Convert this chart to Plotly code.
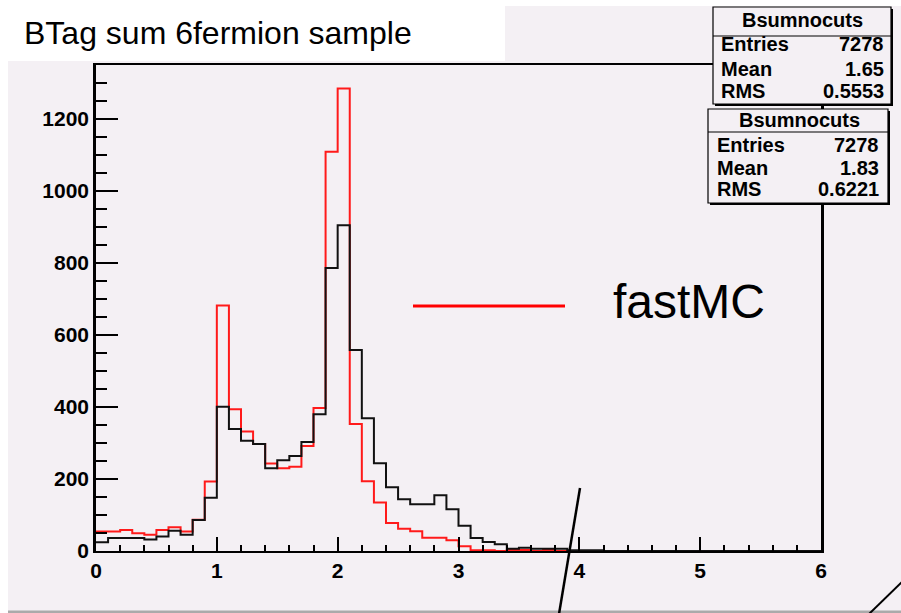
import numpy as np
import plotly.graph_objects as go

# ---------------- data ----------------
bin_width = 0.1
bin_edges = [round(i * bin_width, 1) for i in range(61)]  # 0.0 .. 6.0

# red histogram (fastMC), counts per 0.1 bin from 0.0
red_counts = [54, 54, 58, 49, 45, 58, 66, 54, 87, 193,
              682, 394, 332, 297, 243, 230, 234, 292, 397, 1109,
              1285, 353, 194, 135, 78, 62, 55, 37, 37, 30,
              13, 2, 2, 0, 3, 3, 0, 3, 0, 0,
              0, 0, 0, 0, 0, 0, 0, 0, 0, 0,
              0, 0, 0, 0, 0, 0, 0, 0, 0, 0]

# black histogram
black_counts = [24, 36, 36, 36, 32, 40, 56, 45, 86, 148,
                401, 339, 306, 297, 230, 252, 264, 303, 380, 786,
                905, 558, 369, 244, 177, 144, 130, 130, 155, 116,
                70, 36, 25, 19, 6, 9, 6, 6, 6, 2,
                2, 2, 0, 0, 0, 0, 0, 0, 0, 0,
                0, 0, 0, 0, 0, 0, 0, 0, 0, 0]

title_text = "BTag sum 6fermion sample"
legend_text = "fastMC"

stat_name = "Bsumnocuts"
stat_labels = ["Entries", "Mean", "RMS"]
stats_box1 = ["7278", "1.65", "0.5553"]
stats_box2 = ["7278", "1.83", "0.6221"]

x_range = [0, 6]
y_range = [0, 1350]
x_ticks = [0, 1, 2, 3, 4, 5, 6]
y_ticks = [0, 200, 400, 600, 800, 1000, 1200]

# ---------------- layout helpers ----------------
W, H = 901, 613
CANVAS = "#f4f0f4"


def px(x):
    return x / W


def py(y):
    return 1 - y / H


fig = go.Figure()

fig.add_trace(go.Scatter(
    x=bin_edges, y=red_counts + [red_counts[-1]],
    mode="lines", line=dict(color="#ff1a1a", width=2, shape="hv"),
    hoverinfo="skip", showlegend=False))
fig.add_trace(go.Scatter(
    x=bin_edges, y=black_counts + [black_counts[-1]],
    mode="lines", line=dict(color="#111111", width=2, shape="hv"),
    hoverinfo="skip", showlegend=False))

tickfont = dict(family="Liberation Sans", size=21, color="black", weight="bold")

fig.update_layout(
    width=W, height=H,
    margin=dict(l=0, r=0, t=0, b=0, pad=0, autoexpand=False),
    paper_bgcolor="white",
    plot_bgcolor=CANVAS,
    showlegend=False,
    xaxis=dict(
        domain=[px(96), px(821)], range=x_range, automargin=False,
        tickvals=x_ticks, ticktext=[str(v) for v in x_ticks],
        ticks="inside", ticklen=14, tickwidth=2, tickcolor="black",
        minor=dict(dtick=0.2, ticks="inside", ticklen=6, tickwidth=2, tickcolor="black"),
        showline=True, linecolor="black", linewidth=2, mirror=True,
        showgrid=False, zeroline=False, tickfont=tickfont,
    ),
    yaxis=dict(
        domain=[py(551), py(65)], range=y_range, automargin=False,
        tickvals=y_ticks, ticktext=[str(v) for v in y_ticks],
        ticks="inside", ticklen=22, tickwidth=2, tickcolor="black",
        minor=dict(dtick=50, ticks="inside", ticklen=11, tickwidth=2, tickcolor="black"),
        showline=True, linecolor="black", linewidth=2.5, mirror=True,
        showgrid=False, zeroline=False, tickfont=tickfont,
    ),
)

shapes = []
# canvas background
shapes.append(dict(type="rect", xref="paper", yref="paper", layer="below",
                   x0=px(8), x1=px(901), y0=py(611), y1=py(6),
                   fillcolor=CANVAS, line=dict(width=0)))
# white title box
shapes.append(dict(type="rect", xref="paper", yref="paper", layer="below",
                   x0=px(0), x1=px(505), y0=py(61), y1=py(0),
                   fillcolor="white", line=dict(width=0)))
# bottom grey border
shapes.append(dict(type="rect", xref="paper", yref="paper", layer="below",
                   x0=px(8), x1=px(901), y0=py(613), y1=py(610.5),
                   fillcolor="#aaaaaa", line=dict(width=0)))

# legend line
shapes.append(dict(type="line", xref="paper", yref="paper",
                   x0=px(413), x1=px(565), y0=py(306), y1=py(306),
                   line=dict(color="#ff0000", width=3)))

# stats boxes (shadow + box + separator)
def stat_box(x0, y0, x1, y1, sep):
    shapes.append(dict(type="rect", xref="paper", yref="paper",
                       x0=px(x0 + 2), x1=px(x1 + 2), y0=py(y1 + 2), y1=py(y0 + 2),
                       fillcolor="black", line=dict(width=0)))
    shapes.append(dict(type="rect", xref="paper", yref="paper",
                       x0=px(x0), x1=px(x1), y0=py(y1), y1=py(y0),
                       fillcolor=CANVAS, line=dict(color="black", width=1.2)))
    shapes.append(dict(type="line", xref="paper", yref="paper",
                       x0=px(x0), x1=px(x1), y0=py(sep), y1=py(sep),
                       line=dict(color="black", width=1.2)))

stat_box(713, 7, 891, 104, 36)
stat_box(708, 109, 888, 203, 132)

# hand-drawn diagonal lines on the slide
shapes.append(dict(type="line", xref="paper", yref="paper",
                   x0=px(580), y0=py(488), x1=px(559), y1=py(614),
                   line=dict(color="black", width=2.5)))
shapes.append(dict(type="line", xref="paper", yref="paper",
                   x0=px(902), y0=py(582), x1=px(869), y1=py(614),
                   line=dict(color="black", width=2)))

fig.update_layout(shapes=shapes)

ann = []
ann.append(dict(text=title_text, xref="paper", yref="paper",
                x=px(22), y=py(33), xanchor="left", yanchor="middle", showarrow=False,
                font=dict(family="Liberation Sans", size=32, color="black")))
ann.append(dict(text=legend_text, xref="paper", yref="paper",
                x=px(611), y=py(301), xanchor="left", yanchor="middle", showarrow=False,
                font=dict(family="Liberation Sans", size=48, color="black")))

sfont = dict(family="Liberation Sans", size=20, color="black", weight="bold")


def stat_text(xl, xr, xc, yh, rows_y, values):
    ann.append(dict(text=stat_name, xref="paper", yref="paper", x=px(xc), y=py(yh),
                    xanchor="center", yanchor="middle", showarrow=False, font=sfont))
    for lab, val, yy in zip(stat_labels, values, rows_y):
        ann.append(dict(text=lab, xref="paper", yref="paper", x=px(xl), y=py(yy),
                        xanchor="left", yanchor="middle", showarrow=False, font=sfont))
        ann.append(dict(text=val, xref="paper", yref="paper", x=px(xr), y=py(yy),
                        xanchor="right", yanchor="middle", showarrow=False, font=sfont))

stat_text(719, 886, 802, 20, [44, 69, 91], stats_box1)
stat_text(715, 881, 799, 120, [145, 168, 189], stats_box2)

fig.update_layout(annotations=ann)

fig.write_html("out.html")
